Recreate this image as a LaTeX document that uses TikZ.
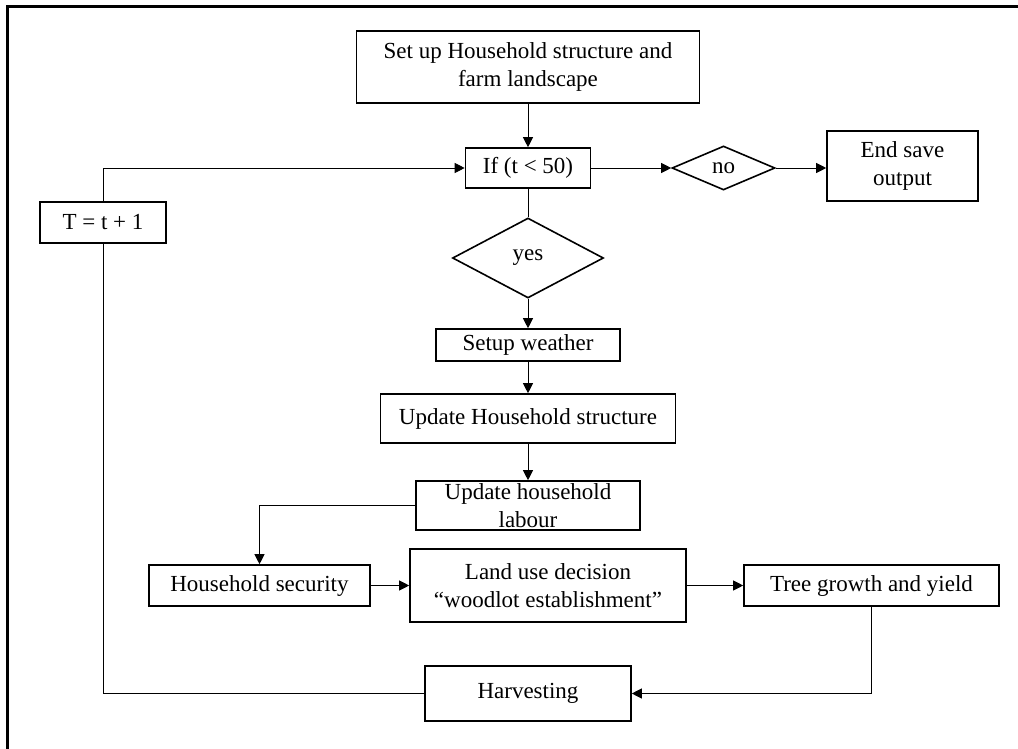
\documentclass[tikz,border=0pt]{standalone}
\usepackage{fontspec}
\setmainfont{Liberation Serif}
\usetikzlibrary{arrows.meta,shapes.geometric}

\begin{document}
\begin{tikzpicture}[x=1pt,y=-1pt,
  box/.style={draw,line width=1.6pt,align=center,inner sep=0pt,font=\fontsize{23}{28}\selectfont},
  choice/.style={diamond,draw,line width=1.6pt,inner sep=0pt,font=\fontsize{23}{28}\selectfont},
  link/.style={line width=0.9pt},
  arr/.style={link,-{Triangle[length=10pt,width=10pt]}}]
  \useasboundingbox (0,0) rectangle (1018,749);
  \draw[line width=2.2pt] (1018,6.5) -- (7.5,6.5) -- (7.5,749);

  \node[box,minimum width=343,minimum height=72] (setup) at (528,67) {Set up Household structure and\\farm landscape};
  \node[box,minimum width=125,minimum height=40] (cond) at (528,168) {If (t < 50)};
  \node[choice,minimum width=103,minimum height=44] (no) at (723.5,168) {no};
  \node[box,minimum width=151,minimum height=70] (stop) at (902.5,166) {End save\\output};
  \node[box,minimum width=126,minimum height=41] (next) at (103,222.5) {T = t + 1};
  \node[choice,minimum width=151,minimum height=80] (yes) at (528,258) {yes};
  \node[box,minimum width=184,minimum height=32] (weather) at (528,345) {Setup weather};
  \node[box,minimum width=295,minimum height=49] (structure) at (528,418.5) {Update Household structure};
  \node[box,minimum width=224,minimum height=49] (labour) at (528,505.5) {Update household\\labour};
  \node[box,minimum width=221,minimum height=41] (security) at (259.5,585.5) {Household security};
  \node[box,minimum width=276,minimum height=73] (landuse) at (548,585.5) {Land use decision\\“woodlot establishment”};
  \node[box,minimum width=255,minimum height=41] (tree) at (871.5,585.5) {Tree growth and yield};
  \node[box,minimum width=206,minimum height=55] (harvest) at (528,693.5) {Harvesting};

  \draw[arr] (setup) -- (cond);
  \draw[arr] (cond) -- (no);
  \draw[arr] (no.east) -- (no.east -| stop.west);
  \draw[link] (cond) -- (yes);
  \draw[arr] (yes) -- (weather);
  \draw[arr] (weather) -- (structure);
  \draw[arr] (structure) -- (labour);
  \draw[arr] (labour.west) -| (security.north);
  \draw[arr] (security) -- (landuse);
  \draw[arr] (landuse) -- (tree);
  \draw[arr] (tree.south) |- (harvest.east);
  \draw[link] (harvest.west) -| (next.south);
  \draw[arr] (next.north) |- (cond.west);
\end{tikzpicture}
\end{document}
